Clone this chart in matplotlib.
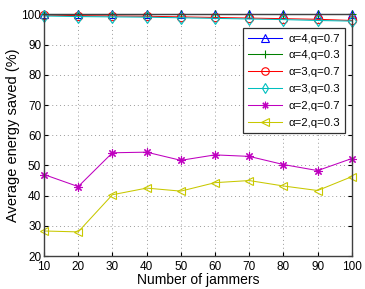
import numpy as np
import matplotlib
matplotlib.use('Agg')
import matplotlib.pyplot as plt

plt.rcParams['font.family'] = ['Liberation Sans', 'DejaVu Sans']

jammers = [10, 20, 30, 40, 50, 60, 70, 80, 90, 100]

a4_q07 = [100, 100, 100, 100, 100, 100, 100, 100, 100, 100]
a4_q03 = [100, 100, 100, 100, 100, 100, 100, 100, 100, 100]
a3_q07 = [99.8, 99.6, 99.5, 99.4, 99.2, 99.0, 98.8, 98.6, 98.4, 98.0]
a3_q03 = [99.5, 99.3, 99.2, 99.1, 98.9, 98.7, 98.5, 98.3, 98.0, 97.8]
a2_q07 = [47.0, 43.0, 54.2, 54.4, 51.7, 53.5, 53.0, 50.3, 48.3, 52.3]
a2_q03 = [28.3, 28.0, 40.3, 42.5, 41.5, 44.3, 45.0, 43.2, 41.7, 46.3]

# matlab-ish asterisk for the '*' marker
asterisk = (8, 2, 0)

series = [
    (a4_q07, 'b', '^', 6, '\u03b1=4,q=0.7'),
    (a4_q03, '#008000', '+', 6, '\u03b1=4,q=0.3'),
    (a3_q07, 'r', 'o', 6, '\u03b1=3,q=0.7'),
    (a3_q03, 'c', 'd', 6, '\u03b1=3,q=0.3'),
    (a2_q07, 'm', asterisk, 6, '\u03b1=2,q=0.7'),
    (a2_q03, '#c8c800', '<', 6, '\u03b1=2,q=0.3'),
]

fig = plt.figure(figsize=(3.65, 2.89), dpi=100)
ax = fig.add_axes([0.1205, 0.114, 0.8435, 0.836])

for vals, col, mk, ms, lab in series:
    ax.plot(jammers, vals, color=col, marker=mk, markersize=ms,
            markerfacecolor='none', markeredgecolor=col, markeredgewidth=0.8,
            linewidth=0.75, label=lab, clip_on=False)

ax.set_xlim(10, 100)
ax.set_ylim(20, 100)
ax.set_xticks(jammers)
ax.set_yticks(np.arange(20, 101, 10))
ax.grid(True, linestyle=(0, (1, 3)), color='#9a9a9a', linewidth=0.7)
ax.tick_params(direction='in', labelsize=8.5, length=3, top=True, right=True)
ax.tick_params(axis='x', pad=3.5)
ax.tick_params(axis='y', pad=2)
for s in ax.spines.values():
    s.set_linewidth(1.0)
    s.set_color('#404040')

ax.set_xlabel('Number of jammers', fontsize=10, labelpad=0)
ax.set_ylabel('Average energy saved (%)', fontsize=10.5, labelpad=1)

leg = ax.legend(loc='upper right', bbox_to_anchor=(0.977, 0.942), fontsize=8.2,
                fancybox=False, edgecolor='#303030', framealpha=1,
                handlelength=3.0, borderpad=0.45, labelspacing=0.6,
                handletextpad=0.5, borderaxespad=0, markerscale=0.9)
leg.get_frame().set_linewidth(0.9)

fig.savefig('out.png', dpi=100)
